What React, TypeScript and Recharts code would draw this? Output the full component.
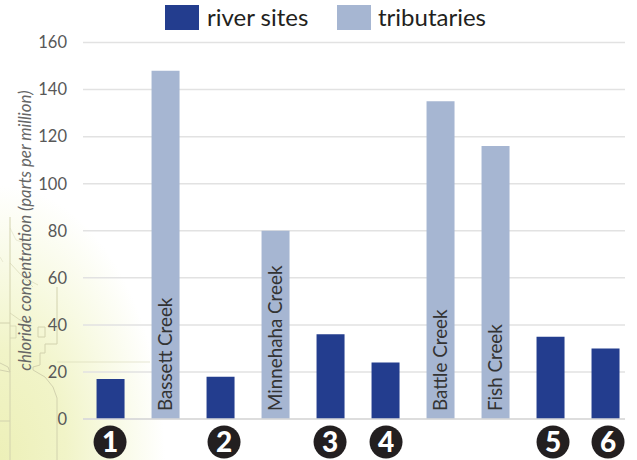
import { BarChart, Bar, XAxis, YAxis, CartesianGrid, Legend, LabelList } from "recharts";

const positions = [0, 1, 2, 3, 4, 5, 6, 7, 8, 9];
const riverSites = [17, null, 18, null, 36, 24, null, null, 35, 30];
const tributaries = [null, 148, null, 80, null, null, 135, 116, null, null];
const creekNames = ["", "Bassett Creek", "", "Minnehaha Creek", "", "", "Battle Creek", "Fish Creek", "", ""];
const siteBadges = ["1", "", "2", "", "3", "4", "", "", "5", "6"];
const yTicks = [0, 20, 40, 60, 80, 100, 120, 140, 160];

const FONT = "Lato, sans-serif";

const chartData = positions.map((pos, i) => ({
  pos,
  river: riverSites[i],
  tributary: tributaries[i],
  creek: creekNames[i],
}));

// small hand placement of the badges, they don't sit exactly under the bars
const badgeNudge = [-1, 0, 3, 0, -1, 0, 0, 0, 2, 2];

function BadgeTick({ x, payload }: any) {
  const label = siteBadges[payload.value];
  if (!label) return null;
  const cx = x + badgeNudge[payload.value];
  return (
    <g>
      <circle cx={cx} cy={442} r={16.5} fill="#231f20" />
      <text x={cx} y={452} textAnchor="middle" fontFamily={FONT} fontWeight={900} fontSize={28} fill="#fff">
        {label}
      </text>
    </g>
  );
}

function CreekLabel({ x, y, width, height, value }: any) {
  if (!value) return null;
  const tx = x + width / 2 + 6;
  const ty = y + height - 8;
  return (
    <text
      transform={`translate(${tx} ${ty}) rotate(-90)`}
      fontFamily={FONT}
      fontSize={18.8}
      fill="#333"
    >
      {value}
    </text>
  );
}

// zero height so the legend doesn't push the plot down
function LegendRow() {
  return (
    <div style={{ position: "relative", height: 0, fontFamily: FONT, fontSize: 24, color: "#231f20" }}>
      <div style={{ position: "absolute", left: 165, top: 5, width: 34, height: 25, background: "#233d8e" }} />
      <div style={{ position: "absolute", left: 207, top: 2, lineHeight: "30px" }}>river sites</div>
      <div style={{ position: "absolute", left: 337, top: 5, width: 34, height: 25, background: "#a6b6d2" }} />
      <div style={{ position: "absolute", left: 378, top: 2, lineHeight: "30px" }}>tributaries</div>
    </div>
  );
}

// faded map behind the lower left corner
function MapBackdrop() {
  return (
    <svg width={637} height={460} style={{ position: "absolute", left: 0, top: 0 }}>
      <defs>
        <radialGradient id="wash" gradientUnits="userSpaceOnUse" cx={0} cy={0} r={1} gradientTransform="translate(0 460) scale(165 275)">
          <stop offset="0%" stopColor="#edf0b8" />
          <stop offset="40%" stopColor="#f1f4c8" />
          <stop offset="70%" stopColor="#f8fae4" />
          <stop offset="100%" stopColor="#ffffff" />
        </radialGradient>
      </defs>
      <rect width={637} height={460} fill="url(#wash)" />
      <g fill="none" stroke="#d2d2ae" strokeWidth={1}>
        <path d="M10 217V460" />
        <path d="M0 323H10M0 421H10" />
        <path d="M57 287V344H45V353H40V365L33 367V370L45 377 53 387 57 398V460" />
        <path d="M45 327H38V337H45Z" />
        <path d="M57 362H150" opacity={0.5} />
        <path d="M0 363L8 367 10 372 0 370" />
        <path d="M10 313L20 320 32 323M10 326H16V338H10" opacity={0.7} />
        <path d="M10 263L23 277 33 287M23 277L38 285" opacity={0.6} />
        <path d="M10 228L16 240 30 245M0 257L3 262" opacity={0.4} />
      </g>
    </svg>
  );
}

export default function App() {
  return (
    <div style={{ position: "absolute", left: 0, top: 0, width: 637, height: 460, background: "#fff", overflow: "hidden" }}>
      <MapBackdrop />
      <div style={{ position: "absolute", left: 0, top: 0 }}>
        <BarChart width={637} height={460} data={chartData} margin={{ top: 42.5, right: 12, bottom: 0, left: 0 }}>
          <CartesianGrid vertical={false} stroke="#e2e2e2" strokeWidth={1.5} />
          <XAxis
            dataKey="pos"
            type="number"
            domain={[-0.51, 9.345]}
            ticks={positions}
            interval={0}
            allowDataOverflow
            axisLine={{ stroke: "#d8d8d8", strokeWidth: 1.5 }}
            tickLine={false}
            tick={<BadgeTick />}
            height={41}
          />
          <YAxis
            domain={[0, 160]}
            ticks={yTicks}
            width={83}
            axisLine={false}
            tickLine={false}
            tickMargin={10}
            tick={{ fill: "#585858", fontSize: 16.5, fontFamily: FONT }}
            label={{
              value: "chloride concentration (parts per million)",
              angle: -90,
              position: "insideLeft",
              dx: 20,
              dy: 140,
              style: { fontFamily: FONT, fontStyle: "italic", fontSize: 16.8, fill: "#666" },
            }}
          />
          <Legend verticalAlign="top" content={<LegendRow />} wrapperStyle={{ top: 0, left: 0, width: 637 }} />
          <Bar dataKey="river" name="river sites" stackId="a" fill="#233d8e" barSize={28} isAnimationActive={false} />
          <Bar dataKey="tributary" name="tributaries" stackId="a" fill="#a6b6d2" barSize={28} isAnimationActive={false}>
            <LabelList dataKey="creek" content={<CreekLabel />} />
          </Bar>
        </BarChart>
      </div>
    </div>
  );
}
